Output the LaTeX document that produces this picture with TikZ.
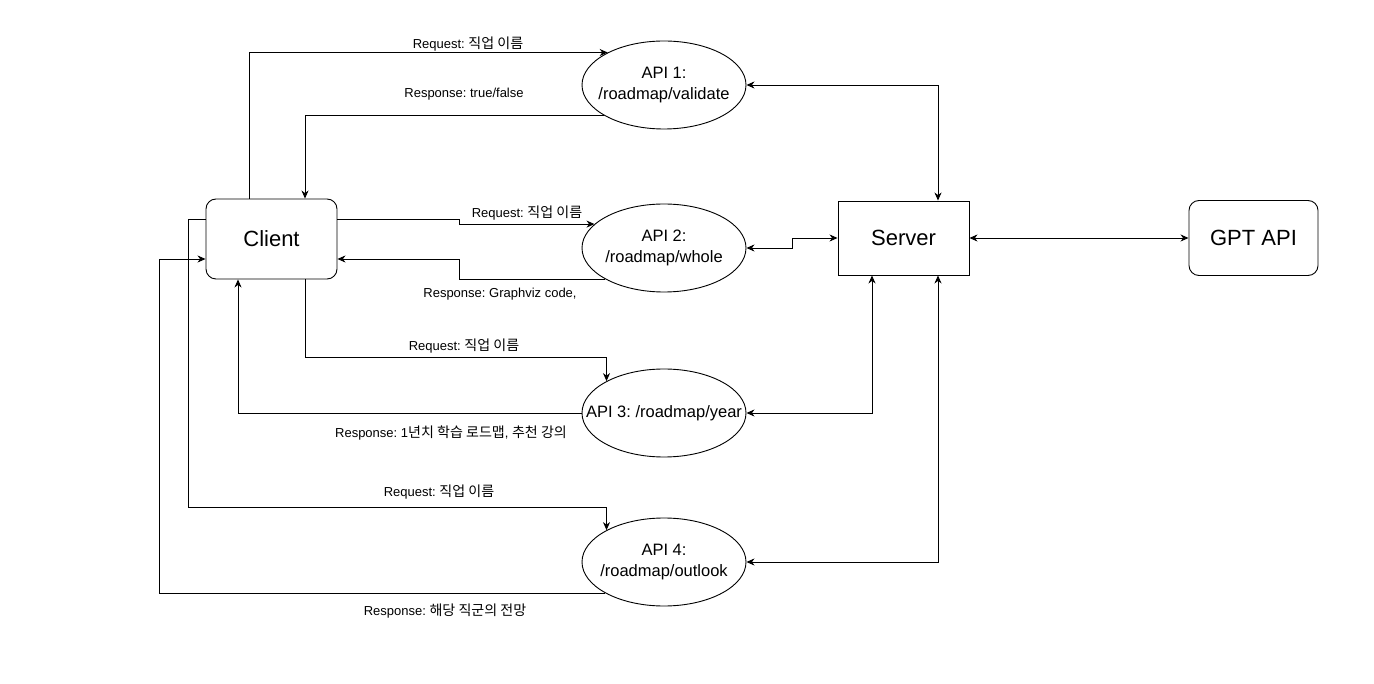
\documentclass[tikz,border=0pt]{standalone}
\usepackage{fontspec}
\setmainfont{Liberation Sans}
\newfontfamily\kr[Scale=1.08]{Noto Sans CJK KR}
\usetikzlibrary{arrows.meta,shapes.geometric}
\frenchspacing
\newcommand{\apitxt}[1]{\makebox[0pt][c]{\begin{tabular}{@{}c@{}}#1\end{tabular}}}

\begin{document}
\begin{tikzpicture}[x=1pt,y=-1pt,
  every node/.style={inner sep=0pt},
  tip/.tip={Stealth[length=8pt,width=7pt,inset=2.5pt]},
  conn/.style={draw=black, line width=0.9pt, -tip},
  bconn/.style={draw=black, line width=0.9pt, tip-tip},
  api/.style={ellipse, draw, line width=0.9pt, minimum width=164pt, minimum height=88pt, font=\fontsize{16.5}{21}\selectfont},
  rbox/.style={draw, line width=0.9pt, rounded corners=10pt, font=\fontsize{22}{26}\selectfont},
  sbox/.style={draw, line width=0.9pt, font=\fontsize{22}{26}\selectfont},
  lbl/.style={font=\fontsize{13}{15}\selectfont}
]
\useasboundingbox (0,0) rectangle (1374,684);

% main nodes
\node[rbox, minimum width=131pt, minimum height=80pt] (client) at (271.5,239) {Client};
\node[sbox, minimum width=131pt, minimum height=74pt] (server) at (903.5,238) {Server};
\node[rbox, minimum width=129pt, minimum height=75pt] (gpt) at (1253.5,238) {GPT API};

\node[api] (api1) at (664,85) {\apitxt{API 1:\\/roadmap/validate}};
\node[api] (api2) at (664,248) {\apitxt{API 2:\\/roadmap/whole}};
\node[api] (api3) at (664,413) {\apitxt{API 3: /roadmap/year}};
\node[api] (api4) at (664,562) {\apitxt{API 4:\\/roadmap/outlook}};

% bend coordinates
\coordinate (k1) at (459,219);
\coordinate (k2) at (459,259);
\coordinate (k4) at (188,507);
\coordinate (k5) at (159,259);

% labels
\node[lbl] (l1) at (468,44) {Request: {\kr 직업 이름}};
\node[lbl] (l2) at (464,94) {Response: true/false};
\node[lbl] (l3) at (527,213) {Request: {\kr 직업 이름}};
\node[lbl] (l4) at (500,294) {Response: Graphviz code,};
\node[lbl] (l5) at (464,346) {Request: {\kr 직업 이름}};
\node[lbl] (l6) at (451,433) {Response: 1{\kr 년치 학습 로드맵}, {\kr 추천 강의}};
\node[lbl] (l7) at (439,492) {Request: {\kr 직업 이름}};
\node[lbl] (l8) at (445,611) {Response: {\kr 해당 직군의 전망}};

% client <-> APIs
\draw[conn] ([xshift=-22.5pt]client.north) |- (api1.150);
\draw[conn] (api1.207) -| ([xshift=33.5pt]client.north);

\draw[conn] ([yshift=20pt]client.east) -- (k1) |- (api2.161);
\draw[conn] (api2.208) -| (k2) -- ([yshift=-20pt]client.east);

\draw[conn] ([xshift=33.5pt]client.south) -- ++(0,78) -| (api3.151);
\draw[conn] (api3.west) -| ([xshift=-33.5pt]client.south);

\draw[conn] ([yshift=20pt]client.west) -| (k4) -| (api4.151);
\draw[conn] (api4.208) -| (k5) -- ([yshift=-20pt]client.west);

% APIs <-> server
\draw[bconn] (api1.east) -| ([xshift=34.5pt]server.north);
\draw[bconn] (api2.east) -- ++(46,0) |- (server.west);
\draw[bconn] (api3.east) -| ([xshift=-31.5pt]server.south);
\draw[bconn] (api4.east) -| ([xshift=34.5pt]server.south);

% server <-> gpt
\draw[bconn] (server.east) -- (gpt.west);
\end{tikzpicture}
\end{document}
